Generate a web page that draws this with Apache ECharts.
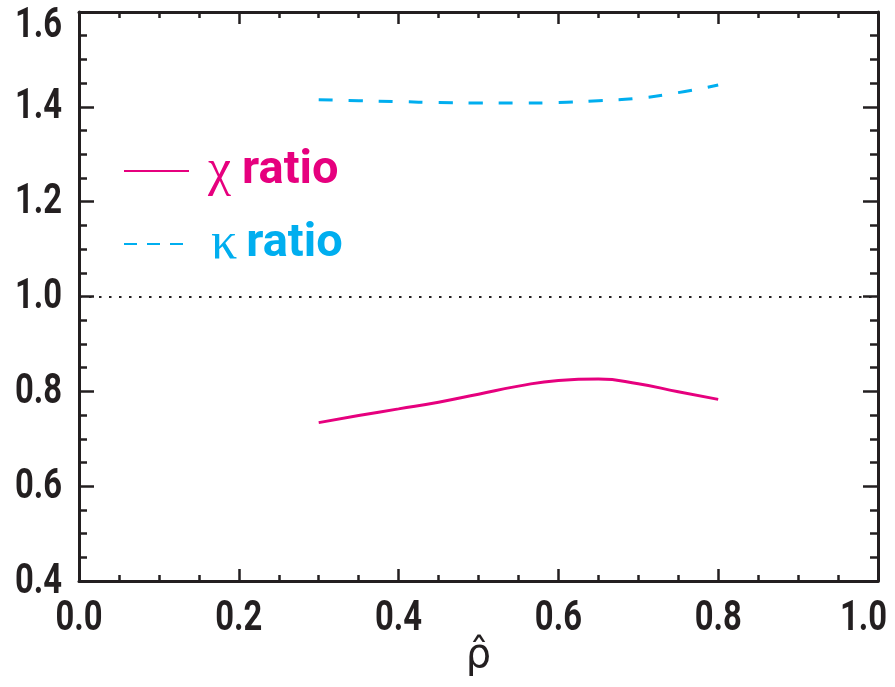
<!DOCTYPE html>
<html>
<head>
<meta charset="utf-8">
<script src="https://cdn.jsdelivr.net/npm/echarts@6/dist/echarts.min.js"></script>
<style>
  html, body { margin: 0; padding: 0; background: #fff; }
  #chart { width: 895px; height: 687px; }
</style>
</head>
<body>
<div id="chart"></div>
<script>
// rho hat sampled every 0.05 between 0.3 and 0.8
var rho = [0.30, 0.35, 0.40, 0.45, 0.50, 0.55, 0.60, 0.65, 0.70, 0.75, 0.80];
var chiRatio = [0.734, 0.749, 0.763, 0.777, 0.794, 0.811, 0.823, 0.826, 0.816, 0.799, 0.783];
var kappaRatio = [1.415, 1.413, 1.411, 1.409, 1.408, 1.408, 1.409, 1.413, 1.418, 1.430, 1.446];
var xTicks = [0, 0.2, 0.4, 0.6, 0.8, 1.0];
var yTicks = [0.4, 0.6, 0.8, 1.0, 1.2, 1.4, 1.6];

var pink = '#E6007E';
var cyan = '#00AEEF';
var ink = '#231F20';
var labelFont = 'bold 42px Roboto';
var squeeze = 0.78;   // condensed look for the tick numbers

function pairs(xs, ys) {
  var out = [];
  for (var i = 0; i < xs.length; i++) out.push([xs[i], ys[i]]);
  return out;
}

function xAxisCfg(pos, named) {
  return {
    type: 'value', position: pos, min: 0, max: 1, interval: 0.2,
    axisLine: { show: true, onZero: false, lineStyle: { color: ink, width: 3 } },
    axisTick: { show: true, inside: true, length: 12, lineStyle: { color: ink, width: 2.5 } },
    minorTick: { show: true, splitNumber: 4, length: 6, lineStyle: { color: ink, width: 2.5 } },
    splitLine: { show: false },
    axisLabel: { show: false },
    name: named ? 'ρ\u0302' : '', nameLocation: 'middle', nameGap: 56,
    nameTextStyle: { color: ink, fontSize: 40, fontFamily: '"DejaVu Sans", sans-serif' }
  };
}

function yAxisCfg(pos) {
  return {
    type: 'value', position: pos, min: 0.4, max: 1.6, interval: 0.2,
    axisLine: { show: true, onZero: false, lineStyle: { color: ink, width: 3 } },
    axisTick: { show: true, inside: true, length: 15, lineStyle: { color: ink, width: 2.5 } },
    minorTick: { show: true, splitNumber: 4, length: 8, lineStyle: { color: ink, width: 2.5 } },
    splitLine: { show: false },
    axisLabel: { show: false }
  };
}

var chart = echarts.init(document.getElementById('chart'));
chart.setOption({
  backgroundColor: '#fff',
  animation: false,
  grid: { left: 79, right: 17, top: 12, bottom: 106, containLabel: false, outerBoundsMode: 'none' },
  xAxis: [xAxisCfg('bottom', true), xAxisCfg('top', false)],
  yAxis: [yAxisCfg('left'), yAxisCfg('right')],
  legend: {
    orient: 'vertical', left: 123, top: 145, padding: 0,
    itemWidth: 65, itemHeight: 20, itemGap: 21,
    itemStyle: { opacity: 0 },
    data: [
      { name: 'chi', textStyle: { color: pink } },
      { name: 'kappa', textStyle: { color: cyan }, lineStyle: { type: [13, 10] } }
    ],
    formatter: function (n) {
      return n === 'chi' ? '{s1|}{g|χ}{s2|}{t|ratio}' : '{s3|}{g|κ}{s4|}{t|ratio}';
    },
    textStyle: {
      rich: {
        s1: { width: 14 }, s2: { width: 11 },
        s3: { width: 17 }, s4: { width: 9 },
        g: { fontSize: 52, fontFamily: '"Liberation Serif", serif' },
        t: { fontSize: 47, fontWeight: 'bold', fontFamily: 'Roboto' }
      }
    }
  },
  series: [
    {
      name: 'chi', type: 'line', smooth: 0.5, symbol: 'none',
      data: pairs(rho, chiRatio),
      lineStyle: { color: pink, width: 3 }, itemStyle: { color: pink },
      markLine: {
        silent: true, symbol: 'none', label: { show: false },
        lineStyle: { color: ink, width: 2, type: [2.5, 7.5] },
        data: [{ yAxis: 1.0 }]
      }
    },
    {
      name: 'kappa', type: 'line', smooth: 0.5, symbol: 'none',
      data: pairs(rho, kappaRatio),
      lineStyle: { color: cyan, width: 3, type: [14, 16] }, itemStyle: { color: cyan }
    }
  ]
});

// tick numbers drawn as squeezed text at the axis tick positions
var measure = document.createElement('canvas').getContext('2d');
measure.font = labelFont;
function fmt(v) { return v.toFixed(1); }

var labels = [];
var axisY = chart.convertToPixel({ yAxisIndex: 0 }, 0.4);
xTicks.forEach(function (v) {
  var px = chart.convertToPixel({ xAxisIndex: 0 }, v);
  var w = measure.measureText(fmt(v)).width * squeeze;
  px = Math.min(Math.max(px, w / 2 + 4), 887 - w / 2);
  labels.push({
    type: 'text', x: px, y: axisY + 38, scaleX: squeeze, silent: true,
    style: { text: fmt(v), font: labelFont, fill: ink, align: 'center', verticalAlign: 'middle' }
  });
});
yTicks.forEach(function (v) {
  var py = chart.convertToPixel({ yAxisIndex: 0 }, v);
  py = Math.max(py + 1, 26);
  labels.push({
    type: 'text', x: 62, y: py, scaleX: squeeze, silent: true,
    style: { text: fmt(v), font: labelFont, fill: ink, align: 'right', verticalAlign: 'middle' }
  });
});
chart.setOption({ graphic: labels });
</script>
</body>
</html>
